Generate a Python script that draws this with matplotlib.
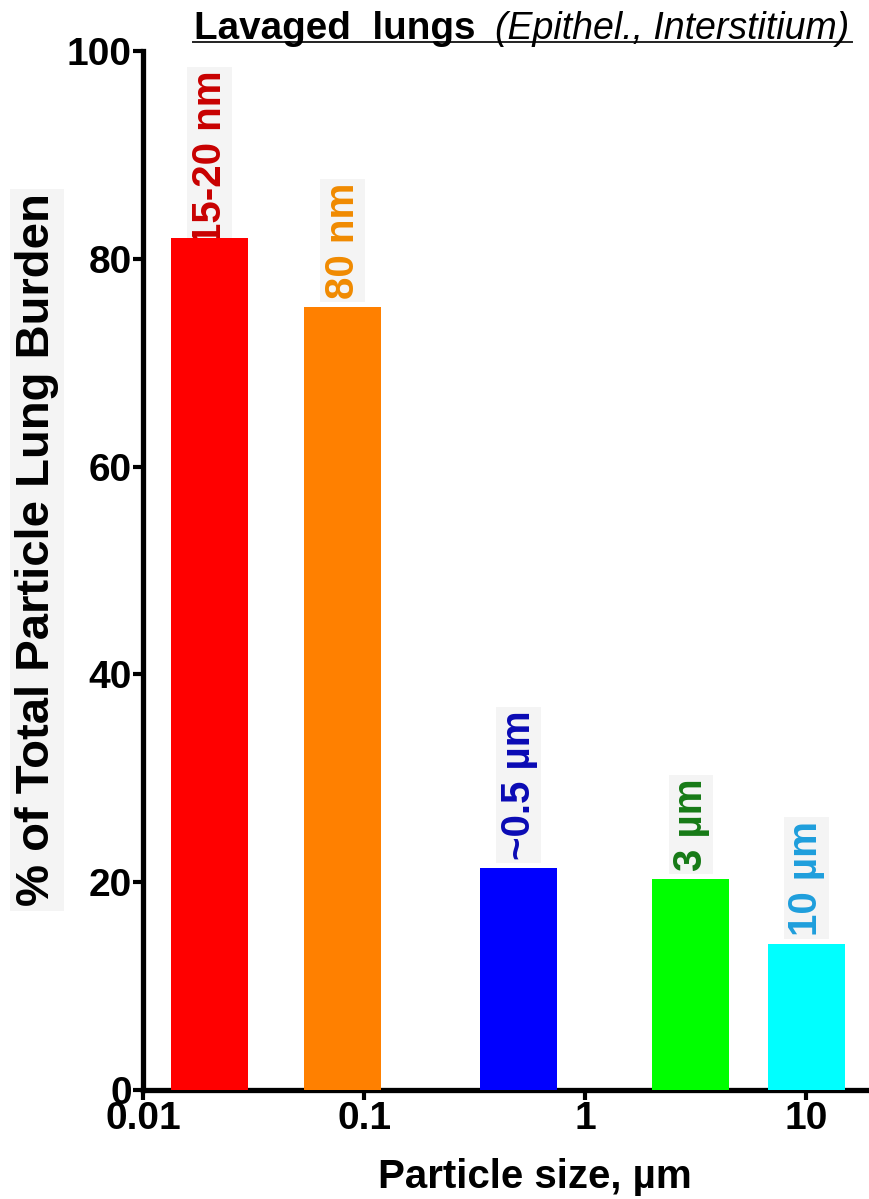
import matplotlib
matplotlib.use("Agg")
import matplotlib.pyplot as plt
from matplotlib.ticker import FixedLocator, FixedFormatter, NullLocator
from matplotlib.lines import Line2D
import numpy as np

# Particle sizes (µm), lung burden (%) and bar annotations
sizes_um = [0.02, 0.08, 0.5, 3, 10]
burden_pct = [82.0, 75.4, 21.4, 20.3, 14.1]
size_labels = ["15-20 nm", "80 nm", "~0.5 µm", "3 µm", "10 µm"]
bar_colors = ["#ff0000", "#ff8000", "#0000ff", "#00ff00", "#00ffff"]
label_colors = ["#c80000", "#f08a00", "#0a0ab4", "#167a16", "#1e9edc"]
xtick_values = [0.01, 0.1, 1, 10]
xtick_labels = ["0.01", "0.1", "1", "10"]
ytick_values = [0, 20, 40, 60, 80, 100]

W, H, DPI = 870, 1199, 100
fig = plt.figure(figsize=(W / DPI, H / DPI), dpi=DPI)

ax_left, ax_right = 143 / W, 1.0
ax_bottom, ax_top = (H - 1090) / H, (H - 51) / H
ax = fig.add_axes([ax_left, ax_bottom, ax_right - ax_left, ax_top - ax_bottom])

bold = dict(family=["Liberation Sans", "DejaVu Sans"], weight="bold")

# Bars of constant width on the log axis
half = 0.175
lefts = [s * 10 ** (-half) for s in sizes_um]
widths = [s * (10 ** half - 10 ** (-half)) for s in sizes_um]
bars = ax.bar(lefts, burden_pct, width=widths, align="edge", color=bar_colors,
              edgecolor="none", zorder=3)

ax.set_xscale("log")
ax.set_xlim(0.01, 19.4)
ax.set_ylim(0, 100)

# Labels above the bars
label_offsets = [-7, 8, 8, 8, 8]
for s, h, lab, col, off in zip(sizes_um, burden_pct, size_labels, label_colors, label_offsets):
    ax.annotate(lab, xy=(s, h), xytext=(0, off), textcoords="offset pixels",
                rotation=90, ha="center", va="bottom", fontsize=29, color=col,
                zorder=2, annotation_clip=False,
                bbox=dict(boxstyle="square,pad=0.08", fc="#f4f4f4", ec="none"),
                **bold)

# Axes styling
for side in ("top", "right"):
    ax.spines[side].set_visible(False)
for side in ("left", "bottom"):
    ax.spines[side].set_linewidth(3.8)
ax.xaxis.set_major_locator(FixedLocator(xtick_values))
ax.xaxis.set_major_formatter(FixedFormatter(xtick_labels))
ax.xaxis.set_minor_locator(NullLocator())
ax.set_yticks(ytick_values)
ax.tick_params(axis="both", which="major", direction="out", length=7, width=3,
               labelsize=28, pad=1)
for t in ax.get_xticklabels() + ax.get_yticklabels():
    t.set_fontfamily(bold["family"])
    t.set_fontweight("bold")

# Axis titles
fig.text(37 / W, 1 - 550 / H, "% of Total Particle Lung Burden", rotation=90,
         ha="center", va="center", fontsize=34,
         bbox=dict(boxstyle="square,pad=0.1", fc="#f4f4f4", ec="none"), **bold)
fig.text(535 / W, 1 - 1188 / H, "Particle size, µm", ha="center", va="baseline",
         fontsize=29, **bold)

# Panel title with underline
fig.text(194 / W, 1 - 39 / H, "Lavaged  lungs", ha="left", va="baseline",
         fontsize=27.8, **bold)
fig.text(495 / W, 1 - 39 / H, "(Epithel., Interstitium)", ha="left", va="baseline",
         fontsize=27, style="italic", family=["Liberation Sans", "DejaVu Sans"])
fig.add_artist(Line2D([193 / W, 852 / W], [1 - 42 / H, 1 - 42 / H],
                      transform=fig.transFigure, color="#222222", lw=1.4))

fig.savefig("out.png", dpi=DPI)
